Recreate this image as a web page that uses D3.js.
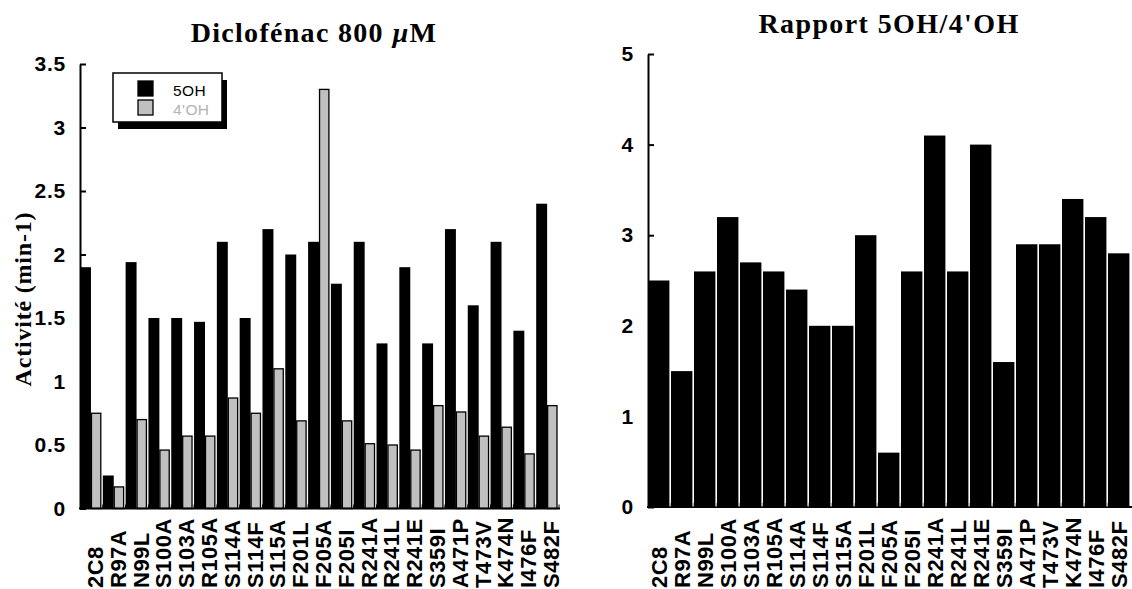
<!DOCTYPE html>
<html>
<head>
<meta charset="utf-8">
<script src="https://cdn.jsdelivr.net/npm/d3@7"></script>
<style>
  body { margin: 0; background: #fff; }
  svg { display: block; }
  .tick text { font-family: "Liberation Sans", Arial, sans-serif; font-weight: bold; font-size: 21px; letter-spacing: 0.8px; fill: #000; }
</style>
</head>
<body>
<svg width="1132" height="589"></svg>
<script>
// mutants (same order in both panels)
var mutants = ['2C8','R97A','N99L','S100A','S103A','R105A','S114A','S114F','S115A','F201L',
  'F205A','F205I','R241A','R241L','R241E','S359I','A471P','T473V','K474N','I476F','S482F'];
// activity (min-1)
var act5OH = [1.9,0.26,1.94,1.5,1.5,1.47,2.1,1.5,2.2,2.0,2.1,1.77,2.1,1.3,1.9,1.3,2.2,1.6,2.1,1.4,2.4];
var act4OH = [0.75,0.17,0.7,0.46,0.57,0.57,0.87,0.75,1.1,0.69,3.3,0.69,0.51,0.5,0.46,0.81,0.76,0.57,0.64,0.43,0.81];
// ratio 5OH/4'OH, right panel
var ratio = [2.5,1.5,2.6,3.2,2.7,2.6,2.4,2.0,2.0,3.0,0.6,2.6,4.1,2.6,4.0,1.6,2.9,2.9,3.4,3.2,2.8];
var leftTicks = [0,0.5,1,1.5,2,2.5,3,3.5];
var rightTicks = [0,1,2,3,4,5];
var seriesNames = ['5OH', "4'OH"];
var grey = '#c0c0c0';

var svg = d3.select('svg');

/**
 * Left panel
 */
var xL = d3.scaleBand().domain(mutants).range([80,559]);
var yL = d3.scaleLinear().domain([0,3.5]).range([508.5,64]);
var bw = xL.bandwidth();

var gL = svg.append('g');

gL.selectAll('rect.b5')
  .data(act5OH)
  .enter()
  .append('rect')
  .attr('class','b5')
  .attr('x', function(d,i){ return xL(mutants[i]) })
  .attr('y', function(d){ return yL(d) })
  .attr('width', bw*0.48)
  .attr('height', function(d){ return yL(0) - yL(d) })
  .attr('fill','#000');

gL.selectAll('rect.b4')
  .data(act4OH)
  .enter()
  .append('rect')
  .attr('class','b4')
  .attr('x', function(d,i){ return xL(mutants[i]) + bw*0.48 + 0.5 })
  .attr('y', function(d){ return yL(d) })
  .attr('width', bw*0.41)
  .attr('height', function(d){ return yL(0) - yL(d) })
  .attr('fill', grey)
  .attr('stroke','#000')
  .attr('stroke-width',1.3);

var yAxisL = d3.axisLeft(yL).tickValues(leftTicks)
  .tickFormat(d3.format('')).tickSizeInner(-6).tickSizeOuter(0).tickPadding(14);
gL.append('g')
  .attr('transform','translate(80,0)')
  .call(yAxisL)
  .call(function(g){ g.selectAll('line, path').attr('stroke','#000').attr('stroke-width',2) });

// x axis line + boundary ticks
gL.append('line')
  .attr('x1',79).attr('x2',560)
  .attr('y1',yL(0)).attr('y2',yL(0))
  .attr('stroke','#000').attr('stroke-width',2);
gL.selectAll('line.xt')
  .data(mutants.slice(1).concat(['end']))
  .enter()
  .append('line')
  .attr('class','xt')
  .attr('x1', function(d){ return d === 'end' ? xL.range()[1] : xL(d) })
  .attr('x2', function(d){ return d === 'end' ? xL.range()[1] : xL(d) })
  .attr('y1', yL(0)).attr('y2', yL(0) - 4)
  .attr('stroke','#000').attr('stroke-width',1);

gL.selectAll('text.xl')
  .data(mutants)
  .enter()
  .append('text')
  .attr('class','xl')
  .attr('transform', function(d){
    return 'translate(' + (xL(d) + bw/2 + 11.5) + ',588) rotate(-90)' })
  .style('font-family','"Liberation Sans", Arial, sans-serif')
  .style('font-weight','bold')
  .style('font-size','22px')
  .style('letter-spacing','0.5px')
  .text(function(d){ return d });

// title
var t1 = gL.append('text')
  .attr('x',314).attr('y',42)
  .attr('text-anchor','middle')
  .style('font-family','"Liberation Serif", "Times New Roman", serif')
  .style('font-weight','bold')
  .style('font-size','28px')
  .style('letter-spacing','1.3px');
t1.append('tspan').text('Diclofénac 800 ');
t1.append('tspan').style('font-style','italic').text('µ');
t1.append('tspan').text('M');

// y label
gL.append('text')
  .attr('transform','translate(31,299) rotate(-90)')
  .attr('text-anchor','middle')
  .style('font-family','"Liberation Serif", "Times New Roman", serif')
  .style('font-weight','bold')
  .style('font-size','24px')
  .style('letter-spacing','0.8px')
  .text('Activité (min-1)');

// legend with drop shadow
var lg = gL.append('g');
lg.append('rect').attr('x',118).attr('y',80).attr('width',109).attr('height',49).attr('fill','#000');
lg.append('rect').attr('x',113).attr('y',73).attr('width',109).attr('height',49)
  .attr('fill','#fff').attr('stroke','#000').attr('stroke-width',1.5);
lg.selectAll('rect.sw')
  .data(seriesNames)
  .enter()
  .append('rect')
  .attr('class','sw')
  .attr('x',138).attr('y', function(d,i){ return 81 + i*19 })
  .attr('width',15).attr('height',15)
  .attr('fill', function(d,i){ return i === 0 ? '#000' : grey })
  .attr('stroke','#000').attr('stroke-width',1.3);
lg.selectAll('text.lt')
  .data(seriesNames)
  .enter()
  .append('text')
  .attr('class','lt')
  .attr('x',173).attr('y', function(d,i){ return 95.5 + i*19 })
  .style('font-family','"Liberation Sans", Arial, sans-serif')
  .style('font-size','15.5px')
  .style('letter-spacing','0.4px')
  .attr('fill', function(d,i){ return i === 0 ? '#000' : '#b4b4b4' })
  .text(function(d){ return d });

/**
 * Right panel
 */
var xR = d3.scaleBand().domain(mutants).range([648,1131]);
var yR = d3.scaleLinear().domain([0,5]).range([507,54]);
var bwR = xR.bandwidth();
var gR = svg.append('g');

gR.selectAll('rect.r')
  .data(ratio)
  .enter()
  .append('rect')
  .attr('class','r')
  .attr('x', function(d,i){ return xR(mutants[i]) })
  .attr('y', function(d){ return yR(d) })
  .attr('width', bwR - 1.6)
  .attr('height', function(d){ return yR(0) - yR(d) })
  .attr('fill','#000');

var yAxisR = d3.axisLeft(yR).tickValues(rightTicks)
  .tickFormat(d3.format('')).tickSizeInner(-6).tickSizeOuter(0).tickPadding(14);
gR.append('g')
  .attr('transform','translate(648,0)')
  .call(yAxisR)
  .call(function(g){ g.selectAll('line, path').attr('stroke','#000').attr('stroke-width',2) });

gR.append('line')
  .attr('x1',647).attr('x2',1132)
  .attr('y1',yR(0)).attr('y2',yR(0))
  .attr('stroke','#000').attr('stroke-width',2);
gR.selectAll('line.xt')
  .data(mutants.slice(1))
  .enter()
  .append('line')
  .attr('class','xt')
  .attr('x1', function(d){ return xR(d) - 0.8 })
  .attr('x2', function(d){ return xR(d) - 0.8 })
  .attr('y1', yR(0)).attr('y2', yR(0) - 4)
  .attr('stroke','#888').attr('stroke-width',1);

gR.selectAll('text.xl')
  .data(mutants)
  .enter()
  .append('text')
  .attr('class','xl')
  .attr('transform', function(d){
    return 'translate(' + (xR(d) + bwR/2 + 7.5) + ',588) rotate(-90)' })
  .style('font-family','"Liberation Sans", Arial, sans-serif')
  .style('font-weight','bold')
  .style('font-size','22px')
  .style('letter-spacing','0.5px')
  .text(function(d){ return d });

gR.append('text')
  .attr('x',889).attr('y',33)
  .attr('text-anchor','middle')
  .style('font-family','"Liberation Serif", "Times New Roman", serif')
  .style('font-weight','bold')
  .style('font-size','28px')
  .style('letter-spacing','1.4px')
  .text("Rapport 5OH/4'OH");
</script>
</body>
</html>
